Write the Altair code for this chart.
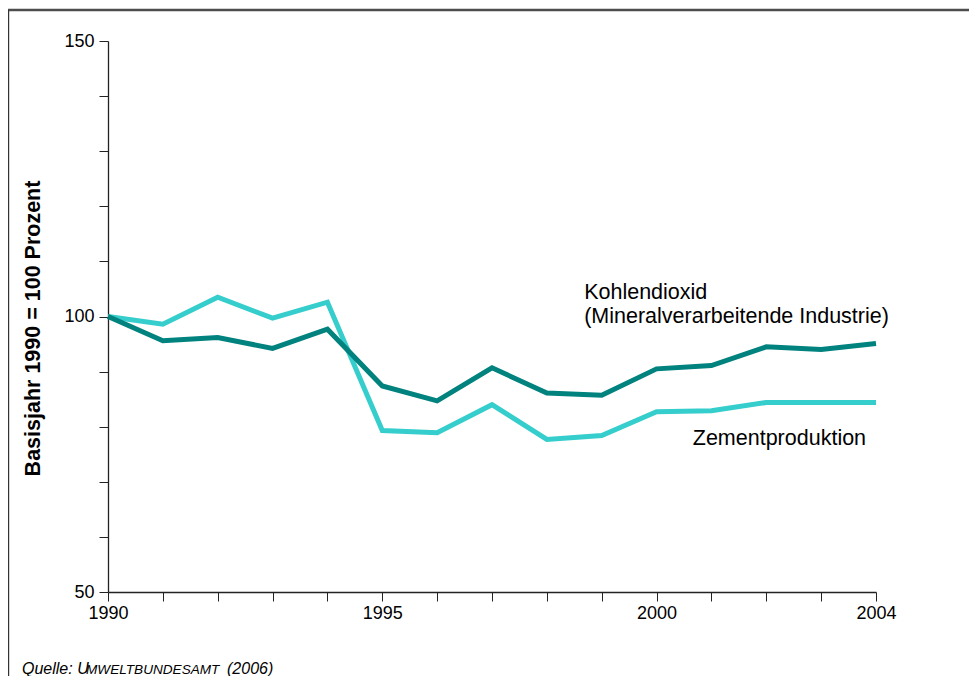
import altair as alt
import pandas as pd

# ---- data ----
years = list(range(1990, 2005))
kohlendioxid = [100.0, 95.6, 96.2, 94.2, 97.7, 87.4, 84.7, 90.7, 86.1, 85.7, 90.5, 91.1, 94.5, 94.0, 95.1]
zement = [100.0, 98.6, 103.5, 99.7, 102.6, 79.3, 78.9, 84.0, 77.7, 78.4, 82.7, 82.9, 84.4, 84.4, 84.4]
series_names = ["Kohlendioxid", "Zementproduktion"]
series_colors = ["#00827E", "#36CDCD"]

x_label_years = [1990, 1995, 2000, 2004]
y_tick_values = list(range(50, 151, 10))
y_label_values = [50, 100, 150]

ann_text = ["Kohlendioxid", "(Mineralverarbeitende Industrie)", "Zementproduktion"]
ann_x = [1998.68, 1998.68, 2000.66]
ann_y = [104.3, 99.9, 77.7]

source_parts = ["Quelle: U", "MWELTBUNDESAMT", "(2006)"]

FONT = "Liberation Sans"

df_k = pd.DataFrame({"Jahr": years, "Wert": kohlendioxid, "Reihe": series_names[0]})
df_z = pd.DataFrame({"Jahr": years, "Wert": zement, "Reihe": series_names[1]})
df_ann = pd.DataFrame({"Jahr": ann_x, "Wert": ann_y, "Text": ann_text})

x_enc = alt.X(
    "Jahr:Q",
    scale=alt.Scale(domain=[1990, 2004], nice=False, zero=False),
    axis=alt.Axis(
        title=None,
        values=years,
        format="d",
        labelExpr="indexof(" + str(x_label_years) + ", datum.value) >= 0 ? datum.label : ''",
        grid=False,
        tickSize=9,
        tickColor="#222222",
        domainColor="#222222",
        domainWidth=1.3,
        labelFontSize=18,
        labelColor="#000000",
        labelPadding=3,
        labelFlush=False,
        labelOverlap=False,
        labelBound=False,
    ),
)
y_enc = alt.Y(
    "Wert:Q",
    scale=alt.Scale(domain=[50, 150], nice=False, zero=False),
    axis=alt.Axis(
        title="Basisjahr 1990 = 100 Prozent",
        values=y_tick_values,
        labelExpr="indexof(" + str(y_label_values) + ", datum.value) >= 0 ? datum.label : ''",
        grid=False,
        tickSize=9,
        tickColor="#222222",
        domainColor="#222222",
        domainWidth=1.3,
        labelFontSize=18,
        labelColor="#000000",
        labelPadding=5,
        labelOverlap=False,
        titleFontSize=21.5,
        titleFontWeight="bold",
        titleColor="#000000",
        titleX=-75,
        titleY=287,
        titleAngle=270,
        titleBaseline="middle",
        titleAlign="center",
    ),
)
color_scale = alt.Scale(domain=series_names, range=series_colors)

line_z = alt.Chart(df_z).mark_line(strokeWidth=5, strokeJoin="miter").encode(
    x=x_enc, y=y_enc, color=alt.Color("Reihe:N", scale=color_scale, legend=None)
)
line_k = alt.Chart(df_k).mark_line(strokeWidth=5, strokeJoin="miter").encode(
    x="Jahr:Q", y="Wert:Q", color=alt.Color("Reihe:N", scale=color_scale, legend=None)
)

ann = alt.Chart(df_ann).mark_text(
    align="left", baseline="middle", fontSize=21.5, font=FONT, color="#000000"
).encode(x="Jahr:Q", y="Wert:Q", text="Text:N")

blank = alt.Data(values=[{}])
frame_top = alt.Chart(blank).mark_rule(color="#4d4d4d", strokeWidth=2.5).encode(
    x=alt.value(-100), x2=alt.value(870), y=alt.value(-31)
)
frame_left = alt.Chart(blank).mark_rule(color="#333333", strokeWidth=1.2).encode(
    x=alt.value(-99.4), y=alt.value(-31), y2=alt.value(640)
)

src_x = [-86, -22, 119]
src_size = [16, 13.6, 16]
src_layers = []
for t, sx, fs in zip(source_parts, src_x, src_size):
    src_layers.append(
        alt.Chart(blank).mark_text(
            align="left", baseline="alphabetic", fontSize=fs, font=FONT,
            fontStyle="italic", color="#000000", text=t
        ).encode(x=alt.value(sx), y=alt.value(633))
    )

chart = alt.layer(line_z, line_k, ann, frame_top, frame_left, *src_layers).properties(
    width=768,
    height=551,
    autosize=alt.AutoSizeParams(type="none"),
    padding={"left": 100, "top": 33, "right": 93, "bottom": 84},
).configure(font=FONT).configure_view(stroke=None)

chart.save("out.html", embed_options={"renderer": "svg", "actions": False})
